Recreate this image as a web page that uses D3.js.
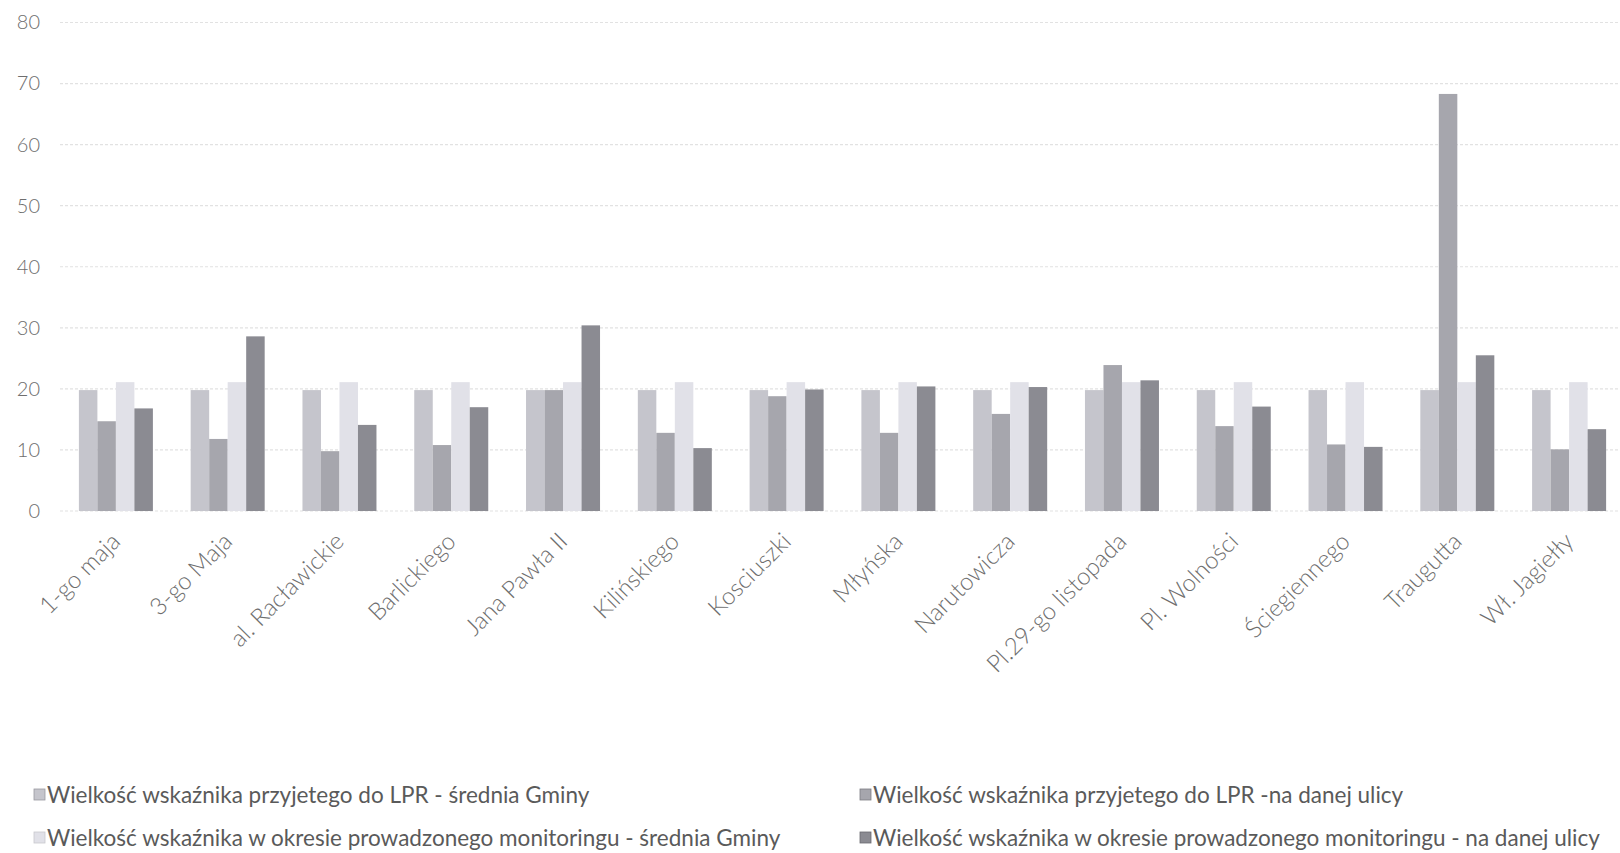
<!DOCTYPE html>
<html>
<head>
<meta charset="utf-8">
<script src="https://cdn.jsdelivr.net/npm/d3@7"></script>
<style>
  html, body { margin: 0; padding: 0; background: #fff; }
  svg { display: block; }
</style>
</head>
<body>
<svg id="chart" width="1620" height="853"></svg>
<script>
const categories = ["1-go maja", "3-go Maja", "al. Racławickie", "Barlickiego", "Jana Pawła II",
  "Kilińskiego", "Kosciuszki", "Młyńska", "Narutowicza", "Pl.29-go listopada",
  "Pl. Wolności", "Ściegiennego", "Traugutta", "Wł. Jagiełły"];
const seriesNames = [
  "Wielkość wskaźnika przyjetego do LPR - średnia Gminy",
  "Wielkość wskaźnika przyjetego do LPR -na danej ulicy",
  "Wielkość wskaźnika w okresie prowadzonego monitoringu - średnia Gminy",
  "Wielkość wskaźnika w okresie prowadzonego monitoringu - na danej ulicy"
];
const lprGmina = [19.8, 19.8, 19.8, 19.8, 19.8, 19.8, 19.8, 19.8, 19.8, 19.8, 19.8, 19.8, 19.8, 19.8];
const lprUlica = [14.7, 11.8, 9.8, 10.8, 19.8, 12.8, 18.8, 12.8, 15.9, 23.9, 13.9, 10.9, 68.3, 10.1];
const monGmina = [21.1, 21.1, 21.1, 21.1, 21.1, 21.1, 21.1, 21.1, 21.1, 21.1, 21.1, 21.1, 21.1, 21.1];
const monUlica = [16.8, 28.6, 14.1, 17.0, 30.4, 10.3, 19.9, 20.4, 20.3, 21.4, 17.1, 10.5, 25.5, 13.4];
const yTicks = [0, 10, 20, 30, 40, 50, 60, 70, 80];

const series = [lprGmina, lprUlica, monGmina, monUlica];
const colors = ["#c5c5cc", "#a6a6ad", "#e1e1e8", "#8b8b92"];
const legendStroke = ["#9a9aa0", "#7d7d83", "#c8c8ce", "#6a6a70"];

const svg = d3.select("#chart");
const font = "Lato, 'Open Sans', sans-serif";

const x0 = d3.scaleBand().domain(categories).range([60, 1625])
  .paddingInner(0.338).paddingOuter(0.169);
const x1 = d3.scaleBand().domain(d3.range(series.length)).range([0, x0.bandwidth()]).padding(0);
const y = d3.scaleLinear().domain([0, 80]).range([511, 22.5]);

// gridlines
svg.append("g").selectAll("line").data(yTicks).join("line")
  .attr("x1", 60).attr("x2", 1620)
  .attr("y1", d => y(d)).attr("y2", d => y(d))
  .attr("stroke", "#e2e2e2").attr("stroke-width", 1.2)
  .attr("stroke-dasharray", "3,2");

// y axis labels
const yAxis = d3.axisLeft(y).tickValues(yTicks).tickSize(0).tickPadding(0);
const yg = svg.append("g").attr("transform", "translate(40,0)").call(yAxis);
yg.select(".domain").remove();
yg.selectAll("text").attr("font-family", font).attr("font-size", 20)
  .attr("fill", "#6e6e6e").attr("font-weight", 300);

// bars
const groups = svg.append("g").selectAll("g").data(categories).join("g")
  .attr("transform", d => `translate(${x0(d)},0)`);
groups.selectAll("rect")
  .data((d, i) => series.map((s, k) => ({k, v: s[i]})))
  .join("rect")
  .attr("x", d => x1(d.k))
  .attr("width", x1.bandwidth())
  .attr("y", d => y(d.v))
  .attr("height", d => y(0) - y(d.v))
  .attr("fill", d => colors[d.k]);

// x axis labels
const xAxis = d3.axisBottom(x0).tickSize(0).tickPadding(0);
const xg = svg.append("g").attr("transform", "translate(0,520)").call(xAxis);
xg.select(".domain").remove();
xg.selectAll("text")
  .attr("font-family", font).attr("font-size", 24).attr("fill", "#6e6e6e")
  .attr("font-weight", 300)
  .attr("text-anchor", "end")
  .attr("dy", "0.35em")
  .attr("transform", "translate(0,17) rotate(-45)");

// legend
const legendPos = [[34, 795], [860, 795], [34, 838], [860, 838]];
const lg = svg.append("g").selectAll("g").data(seriesNames).join("g")
  .attr("transform", (d, i) => `translate(${legendPos[i][0]},${legendPos[i][1]})`);
lg.append("rect").attr("x", 0).attr("y", -6).attr("width", 11).attr("height", 11)
  .attr("fill", (d, i) => colors[i]).attr("stroke", (d, i) => legendStroke[i]).attr("stroke-width", 0.8);
lg.append("text").attr("x", 13).attr("y", 0).attr("dy", "0.35em")
  .attr("font-family", font).attr("font-size", 22.5).attr("fill", "#5a5a5a")
  .text(d => d);
</script>
</body>
</html>
